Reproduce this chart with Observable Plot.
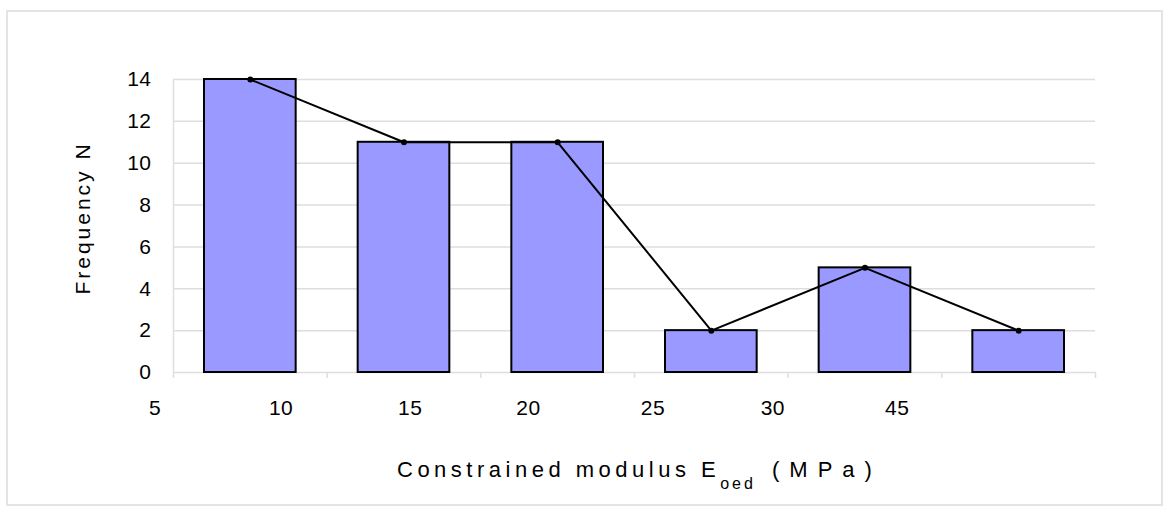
<!DOCTYPE html>
<html><head><meta charset="utf-8">
<script src="https://cdn.jsdelivr.net/npm/d3@7"></script>
<script src="https://cdn.jsdelivr.net/npm/@observablehq/plot@0.6"></script>
<style>
body{margin:0;background:#fff;}
#chart{position:relative;width:1170px;height:513px;}
#frame{position:absolute;left:6px;top:10px;width:1157px;height:496px;border:2px solid #e4e4e4;box-sizing:border-box;pointer-events:none}
</style></head><body><div id="chart"><div id="frame"></div></div>
<script>
// class index of each histogram bar and its frequency
const classes = [0, 1, 2, 3, 4, 5];
const frequency = [14, 11, 11, 2, 5, 2];
// x tick labels as printed under the axis, and where they sit on the class scale
const binLabels = ["5", "10", "15", "20", "25", "30", "45"];
const binLabelPos = [-0.12, 0.70, 1.54, 2.31, 3.12, 3.90, 4.71];
// class boundaries (axis tick marks) and y ticks
const boundaries = [0, 1, 2, 3, 4, 5, 6];
const yTicks = [0, 2, 4, 6, 8, 10, 12, 14];

const data = classes.map((c, i) => ({c, n: frequency[i]}));
const font = "'Liberation Sans', Arial, sans-serif";

const plot = Plot.plot({
  width: 1170, height: 513,
  marginTop: 79, marginBottom: 141, marginLeft: 173, marginRight: 75,
  style: {fontFamily: font, fontSize: "21px", color: "#000", background: "transparent", overflow: "visible"},
  x: {domain: [0, 6]},
  y: {domain: [0, 14]},
  marks: [
    Plot.gridY(yTicks, {stroke: "#dedede", strokeOpacity: 1, strokeWidth: 1.5}),
    Plot.ruleX([0], {stroke: "#dedede", strokeWidth: 1.5}),
    Plot.ruleX(boundaries, {y1: 0, y2: 0, insetBottom: -6, stroke: "#dedede", strokeWidth: 1.5}),
    Plot.axisY(yTicks, {tickSize: 0, tickPadding: 22, fontSize: 21, label: null}),
    Plot.axisX(binLabelPos, {tickSize: 0, tickPadding: 28, fontSize: 21, label: null,
      tickFormat: d => binLabels[binLabelPos.indexOf(d)]}),
    Plot.rectY(data, {x1: "c", x2: d => d.c + 1, y: "n", insetLeft: 31, insetRight: 31,
      fill: "#9999ff", stroke: "#000", strokeWidth: 2}),
    Plot.line(data, {x: d => d.c + 0.5, y: "n", stroke: "#000", strokeWidth: 2}),
    Plot.dot(data, {x: d => d.c + 0.5, y: "n", r: 3, fill: "#000"})
  ]
});
document.getElementById("chart").appendChild(plot);

const svg = d3.select(plot);
svg.selectAll("g[aria-label='y-axis tick label'] text, g[aria-label='x-axis tick label'] text")
  .style("letter-spacing", "0.5px");

// y-axis title
svg.append("text")
  .attr("transform", "translate(84,218) rotate(-90)")
  .attr("text-anchor", "middle").attr("dominant-baseline", "middle")
  .attr("font-family", font).attr("font-size", 21).attr("fill", "#000")
  .style("letter-spacing", "3px")
  .text("Frequency N");

// x-axis title with subscript
const t = svg.append("text")
  .attr("x", 397).attr("y", 477).attr("text-anchor", "start")
  .attr("font-family", font).attr("font-size", 22).attr("fill", "#000")
  .style("letter-spacing", "4.5px");
t.append("tspan").text("Constrained modulus E");
t.append("tspan").attr("dy", 12).attr("font-size", 16).style("letter-spacing", "3px").text("oed");
t.append("tspan").attr("dy", -12).style("letter-spacing", "10px").text(" (MPa)");
</script>
</body></html>
